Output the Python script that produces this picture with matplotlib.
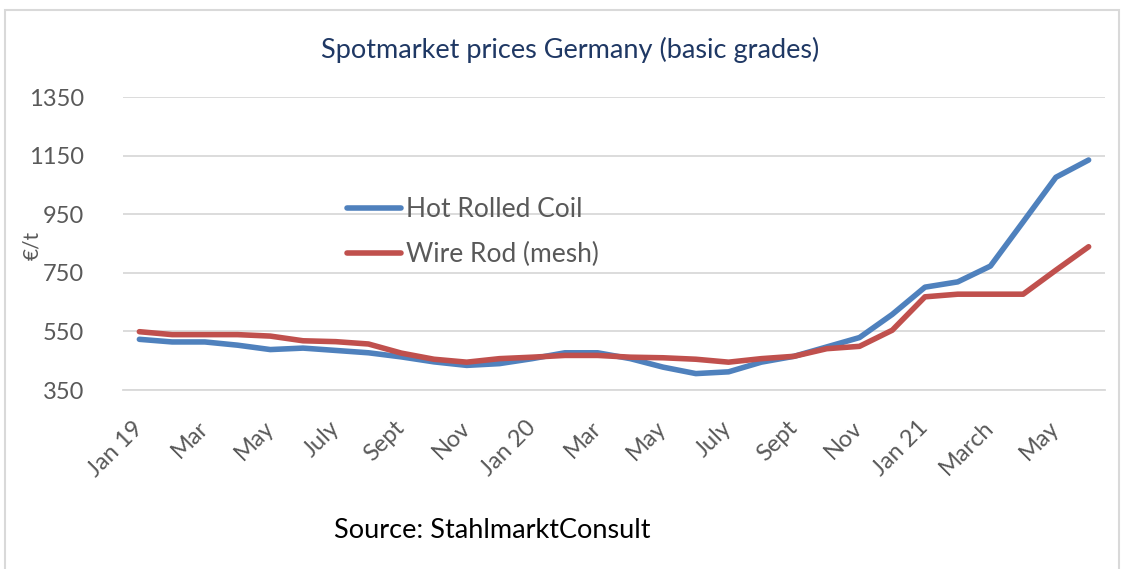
import matplotlib
matplotlib.use("Agg")
import matplotlib.pyplot as plt
from matplotlib.patches import Rectangle
from matplotlib.transforms import ScaledTranslation

plt.rcParams['font.family'] = ['Lato', 'DejaVu Sans']

months = list(range(30))
tick_positions = list(range(0, 30, 2))
tick_labels = ["Jan 19", "Mar", "May", "July", "Sept", "Nov", "Jan 20", "Mar",
               "May", "July", "Sept", "Nov", "Jan 21", "March", "May"]

hot_rolled_coil = [523, 514, 514, 503, 488, 493, 485, 477, 463, 446,
                   434, 440, 457, 477, 477, 457, 428, 406, 412, 445,
                   465, 497, 529, 608, 701, 719, 773, 924, 1076, 1135]
wire_rod_mesh = [549, 539, 539, 539, 534, 518, 515, 507, 476, 455,
                 445, 457, 462, 468, 468, 462, 460, 455, 445, 457,
                 465, 491, 499, 554, 668, 677, 677, 677, 759, 839]

yticks = [350, 550, 750, 950, 1150, 1350]

W, H = 1125, 569
fig = plt.figure(figsize=(W / 100, H / 100), dpi=100)
fig.patch.set_facecolor('white')

# outer frame
fig.patches.append(Rectangle((5 / W, -0.1), (1119 - 5) / W, 1.1 - 10 / H,
                             transform=fig.transFigure, fill=False,
                             edgecolor='#d9d9d9', linewidth=1.5))

ax = fig.add_axes([123 / W, 1 - 390 / H, (1105 - 123) / W, (390 - 97) / H])
ax.plot(months, hot_rolled_coil, color='#4F81BD', lw=4, label='Hot Rolled Coil',
        solid_capstyle='round', solid_joinstyle='round')
ax.plot(months, wire_rod_mesh, color='#C0504D', lw=4, label='Wire Rod (mesh)',
        solid_capstyle='round', solid_joinstyle='round')

ax.set_xlim(-0.5, 29.5)
ax.set_ylim(350, 1350)
ax.set_yticks(yticks)
ax.set_xticks(tick_positions)
ax.set_xticklabels(tick_labels, rotation=45, ha='right', va='center',
                   rotation_mode='anchor')
shift = ScaledTranslation(-3 / 100, 0, fig.dpi_scale_trans)
for lab in ax.get_xticklabels():
    lab.set_transform(lab.get_transform() + shift)
ax.grid(axis='y', color='#d9d9d9', lw=1.3)
ax.set_axisbelow(True)
for s in ['top', 'right', 'left']:
    ax.spines[s].set_visible(False)
ax.spines['bottom'].set_color('#d9d9d9')
ax.spines['bottom'].set_linewidth(1.3)
ax.tick_params(axis='both', length=0, labelsize=17, colors='#595959')
ax.tick_params(axis='y', pad=28)
ax.tick_params(axis='x', pad=25)

ax.set_ylabel('€/t', fontsize=15, color='#595959')
ax.yaxis.set_label_coords(-0.082, 0.495)

fig.text(570 / W, 1 - 50 / H, 'Spotmarket prices Germany (basic grades)',
         ha='center', va='center', fontsize=19.5, color='#1F3864')
fig.text(492 / W, 1 - 530 / H, 'Source: StahlmarktConsult',
         ha='center', va='center', fontsize=19.5, color='black')

leg = ax.legend(loc='upper left', bbox_to_anchor=(347 / W, 1 - 197 / H),
                bbox_transform=fig.transFigure, frameon=False, fontsize=19,
                handlelength=2.05, handletextpad=0.2, labelspacing=0.75,
                borderpad=0, borderaxespad=0)
for t in leg.get_texts():
    t.set_color('#595959')

fig.savefig('out.png', dpi=100)
